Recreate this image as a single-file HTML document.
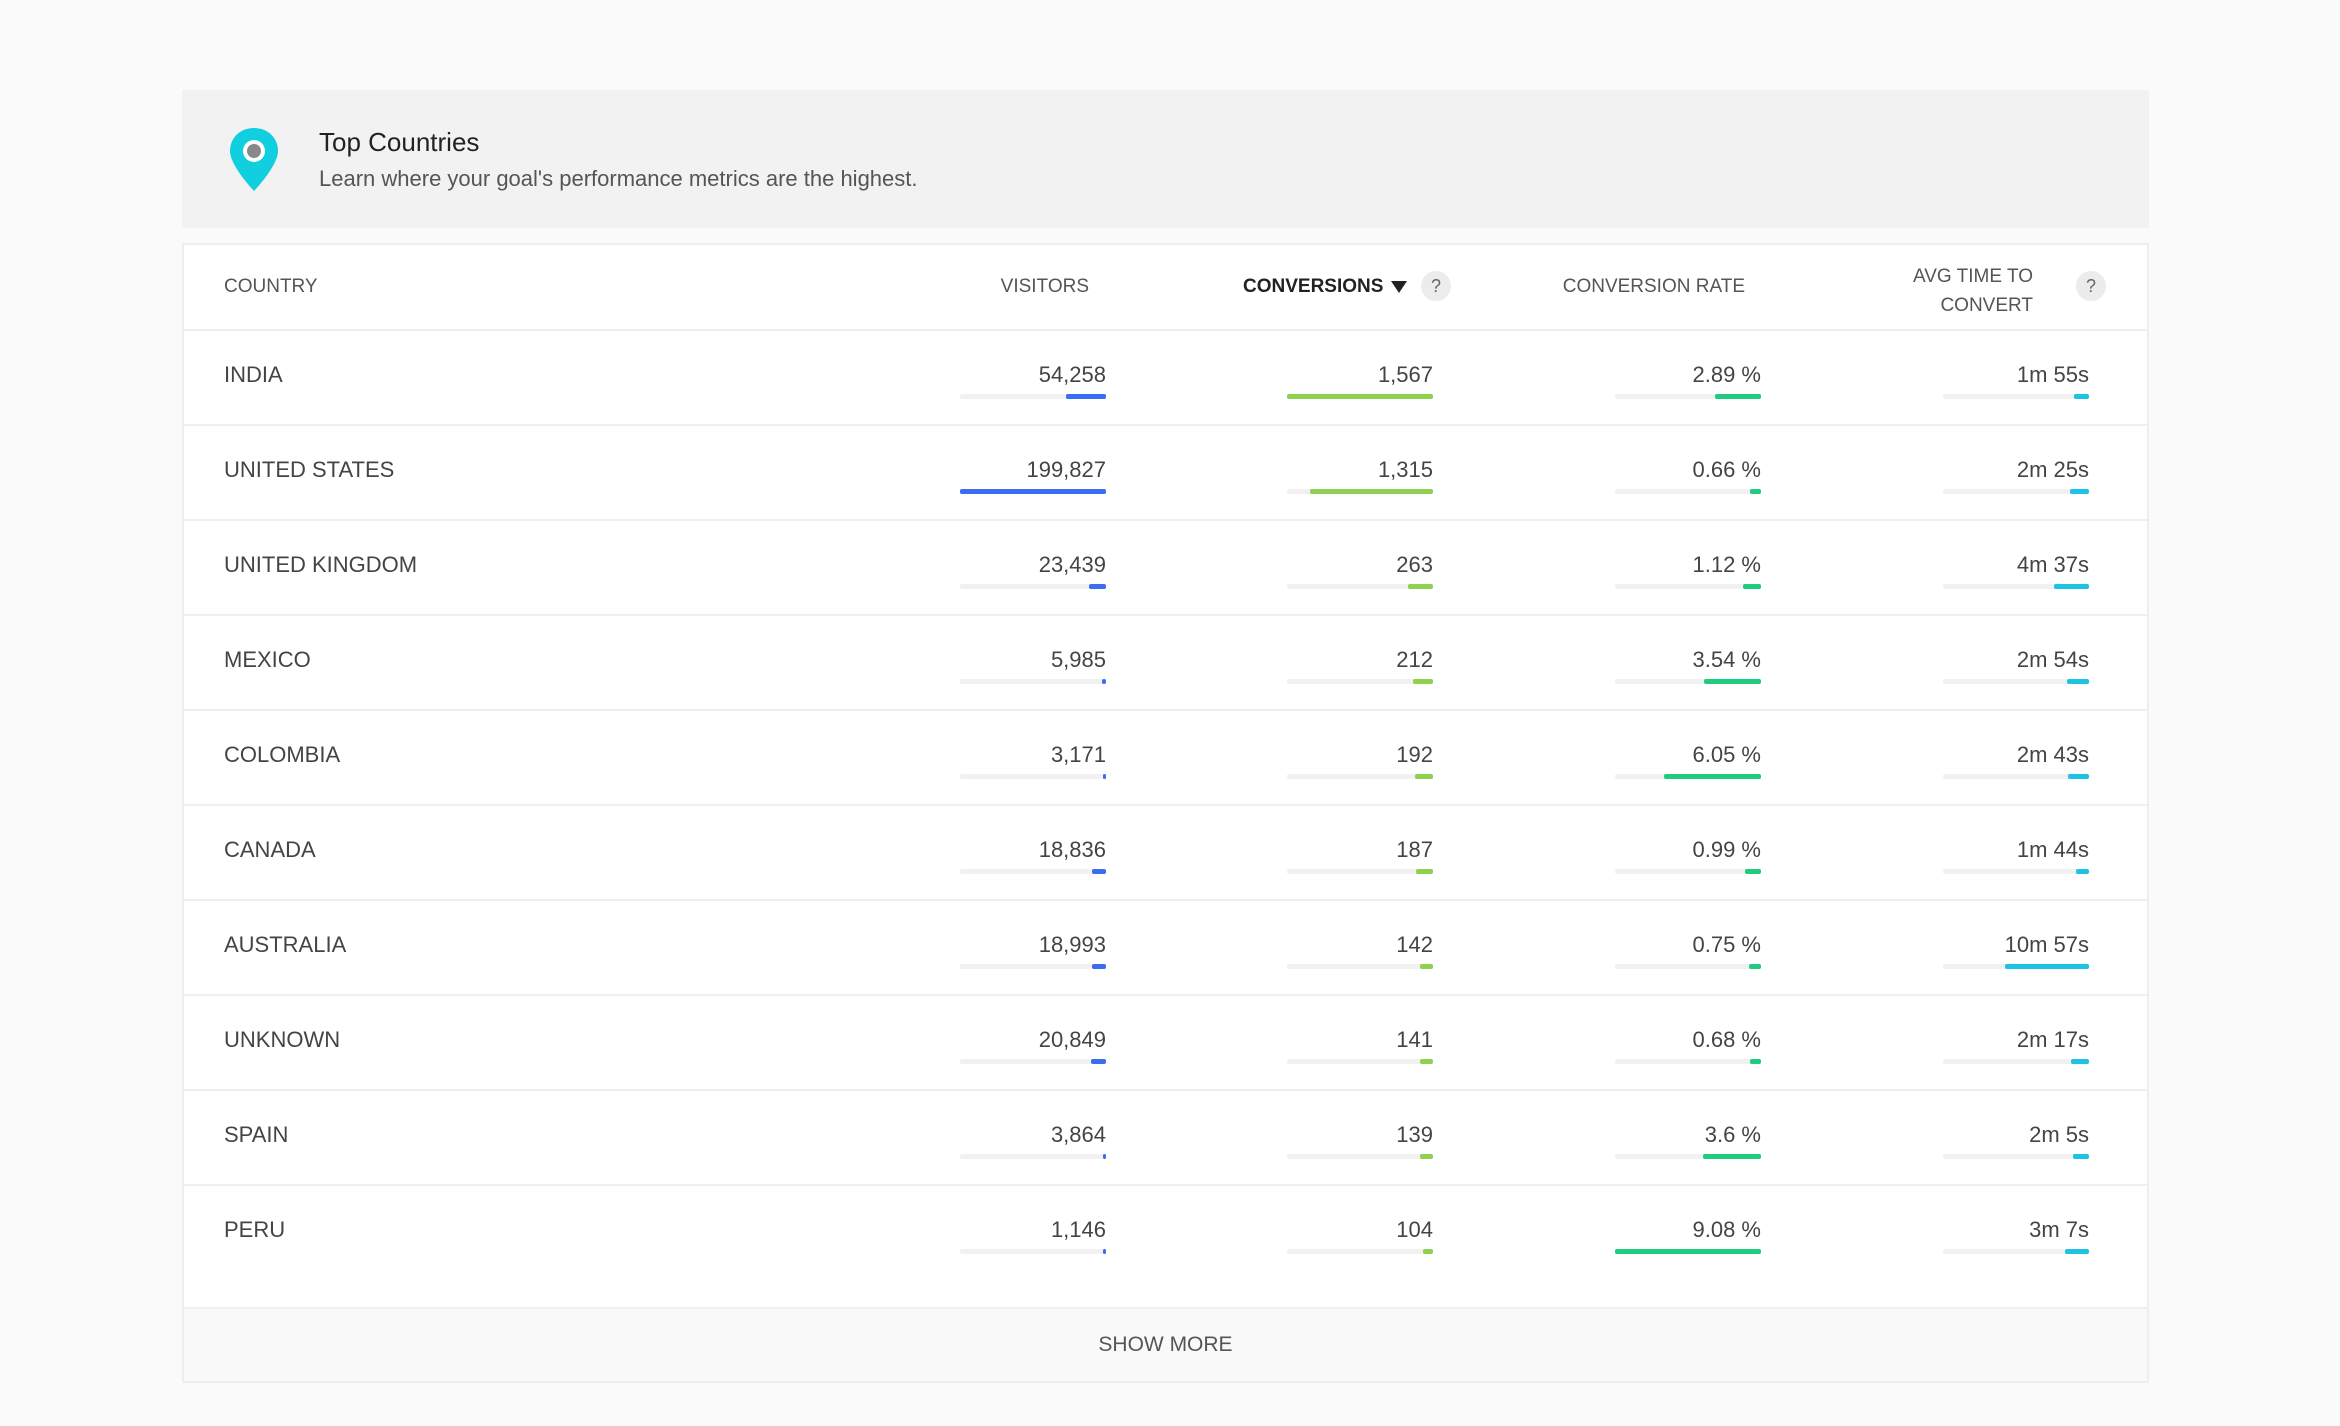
<!DOCTYPE html>
<html><head><meta charset="utf-8"><style>
*{margin:0;padding:0;box-sizing:border-box}
body{width:2340px;height:1426px;background:#fafafa;font-family:"Liberation Sans",sans-serif;color:#444;position:relative;overflow:hidden}
.a{position:absolute}
.hdr{left:182px;top:90px;width:1967px;height:138px;background:#f2f2f2}
.card{left:182px;top:243px;width:1967px;height:1140px;background:#fff;border:2px solid #eeeeee}
.th{position:absolute;font-size:19px;color:#555;top:276px;line-height:22px}
.sep{position:absolute;left:184px;width:1963px;height:2px;background:#efefef}
.txt{position:absolute;font-size:22px;color:#444;line-height:26px}
.r{text-align:right;width:300px}
.tr{position:absolute;height:5px;background:#f1f1f1;width:146px;border-radius:2px}
.b{position:absolute;height:5px;border-radius:2px}
.q{position:absolute;width:30px;height:30px;border-radius:50%;background:#ececec;color:#666;font-size:18px;text-align:center;line-height:30px}
</style></head><body>
<div class="a hdr"></div>
<svg class="a" style="left:228px;top:127px" width="52" height="65" viewBox="0 0 52 65"><path d="M26 1C12 1 2 11 2 24c0 15 24 40 24 40s24-25 24-40C50 11 40 1 26 1z" fill="#12cfe0"/><circle cx="26" cy="24" r="11" fill="#fff"/><circle cx="26" cy="24" r="7" fill="#888"/></svg>
<div class="a" style="left:319px;top:127px;font-size:26px;color:#222">Top Countries</div>
<div class="a" style="left:319px;top:166px;font-size:22px;color:#555">Learn where your goal's performance metrics are the highest.</div>
<div class="a card"></div>
<div class="th" style="left:224px">COUNTRY</div>
<div class="th" style="left:789px;width:300px;text-align:right">VISITORS</div>
<div class="th" style="left:1243px;color:#222;font-weight:bold">CONVERSIONS</div>
<svg class="a" style="left:1391px;top:281px" width="16" height="12"><path d="M0 0h16L8 12z" fill="#222"/></svg>
<div class="q" style="left:1421px;top:271px">?</div>
<div class="th" style="left:1445px;width:300px;text-align:right">CONVERSION RATE</div>
<div class="th" style="left:1733px;width:300px;text-align:right;top:262px;line-height:29px">AVG TIME TO<br>CONVERT</div>
<div class="q" style="left:2076px;top:271px">?</div>
<div class="sep" style="top:329px"></div>
<div id="rows"></div>
<div class="a" style="left:184px;top:1307px;width:1963px;height:74px;background:#f9f9f9;border-top:2px solid #efefef"></div>
<div class="a" style="left:184px;top:1333px;width:1963px;text-align:center;font-size:21px;color:#555">SHOW MORE</div>
<script>
var d=[["INDIA","54,258",54258,"1,567",1567,"2.89 %",2.89,"1m 55s",115],
["UNITED STATES","199,827",199827,"1,315",1315,"0.66 %",0.66,"2m 25s",145],
["UNITED KINGDOM","23,439",23439,"263",263,"1.12 %",1.12,"4m 37s",277],
["MEXICO","5,985",5985,"212",212,"3.54 %",3.54,"2m 54s",174],
["COLOMBIA","3,171",3171,"192",192,"6.05 %",6.05,"2m 43s",163],
["CANADA","18,836",18836,"187",187,"0.99 %",0.99,"1m 44s",104],
["AUSTRALIA","18,993",18993,"142",142,"0.75 %",0.75,"10m 57s",657],
["UNKNOWN","20,849",20849,"141",141,"0.68 %",0.68,"2m 17s",137],
["SPAIN","3,864",3864,"139",139,"3.6 %",3.6,"2m 5s",125],
["PERU","1,146",1146,"104",104,"9.08 %",9.08,"3m 7s",187]];
var cols=[[1106,199827,146,"#3b6df2"],[1433,1567,146,"#8fd14f"],[1761,9.08,146,"#1fcb7f"],[2089,657,84,"#1cc3e3"]];
var h="";
d.forEach(function(r,i){var t=330+i*95;
h+='<div class="txt" style="left:224px;top:'+(t+32)+'px">'+r[0]+'</div>';
cols.forEach(function(c,j){var v=r[2+j*2],w=Math.max(3,v/c[1]*c[2]);
h+='<div class="txt r" style="left:'+(c[0]-300)+'px;top:'+(t+32)+'px">'+r[1+j*2]+'</div>';
h+='<div class="tr" style="left:'+(c[0]-146)+'px;top:'+(t+64)+'px"></div>';
h+='<div class="b" style="left:'+(c[0]-w)+'px;width:'+w+'px;top:'+(t+64)+'px;background:'+c[3]+'"></div>';});
if(i<9)h+='<div class="sep" style="top:'+(t+94)+'px"></div>';});
document.getElementById("rows").innerHTML=h;
</script>
</body></html>
